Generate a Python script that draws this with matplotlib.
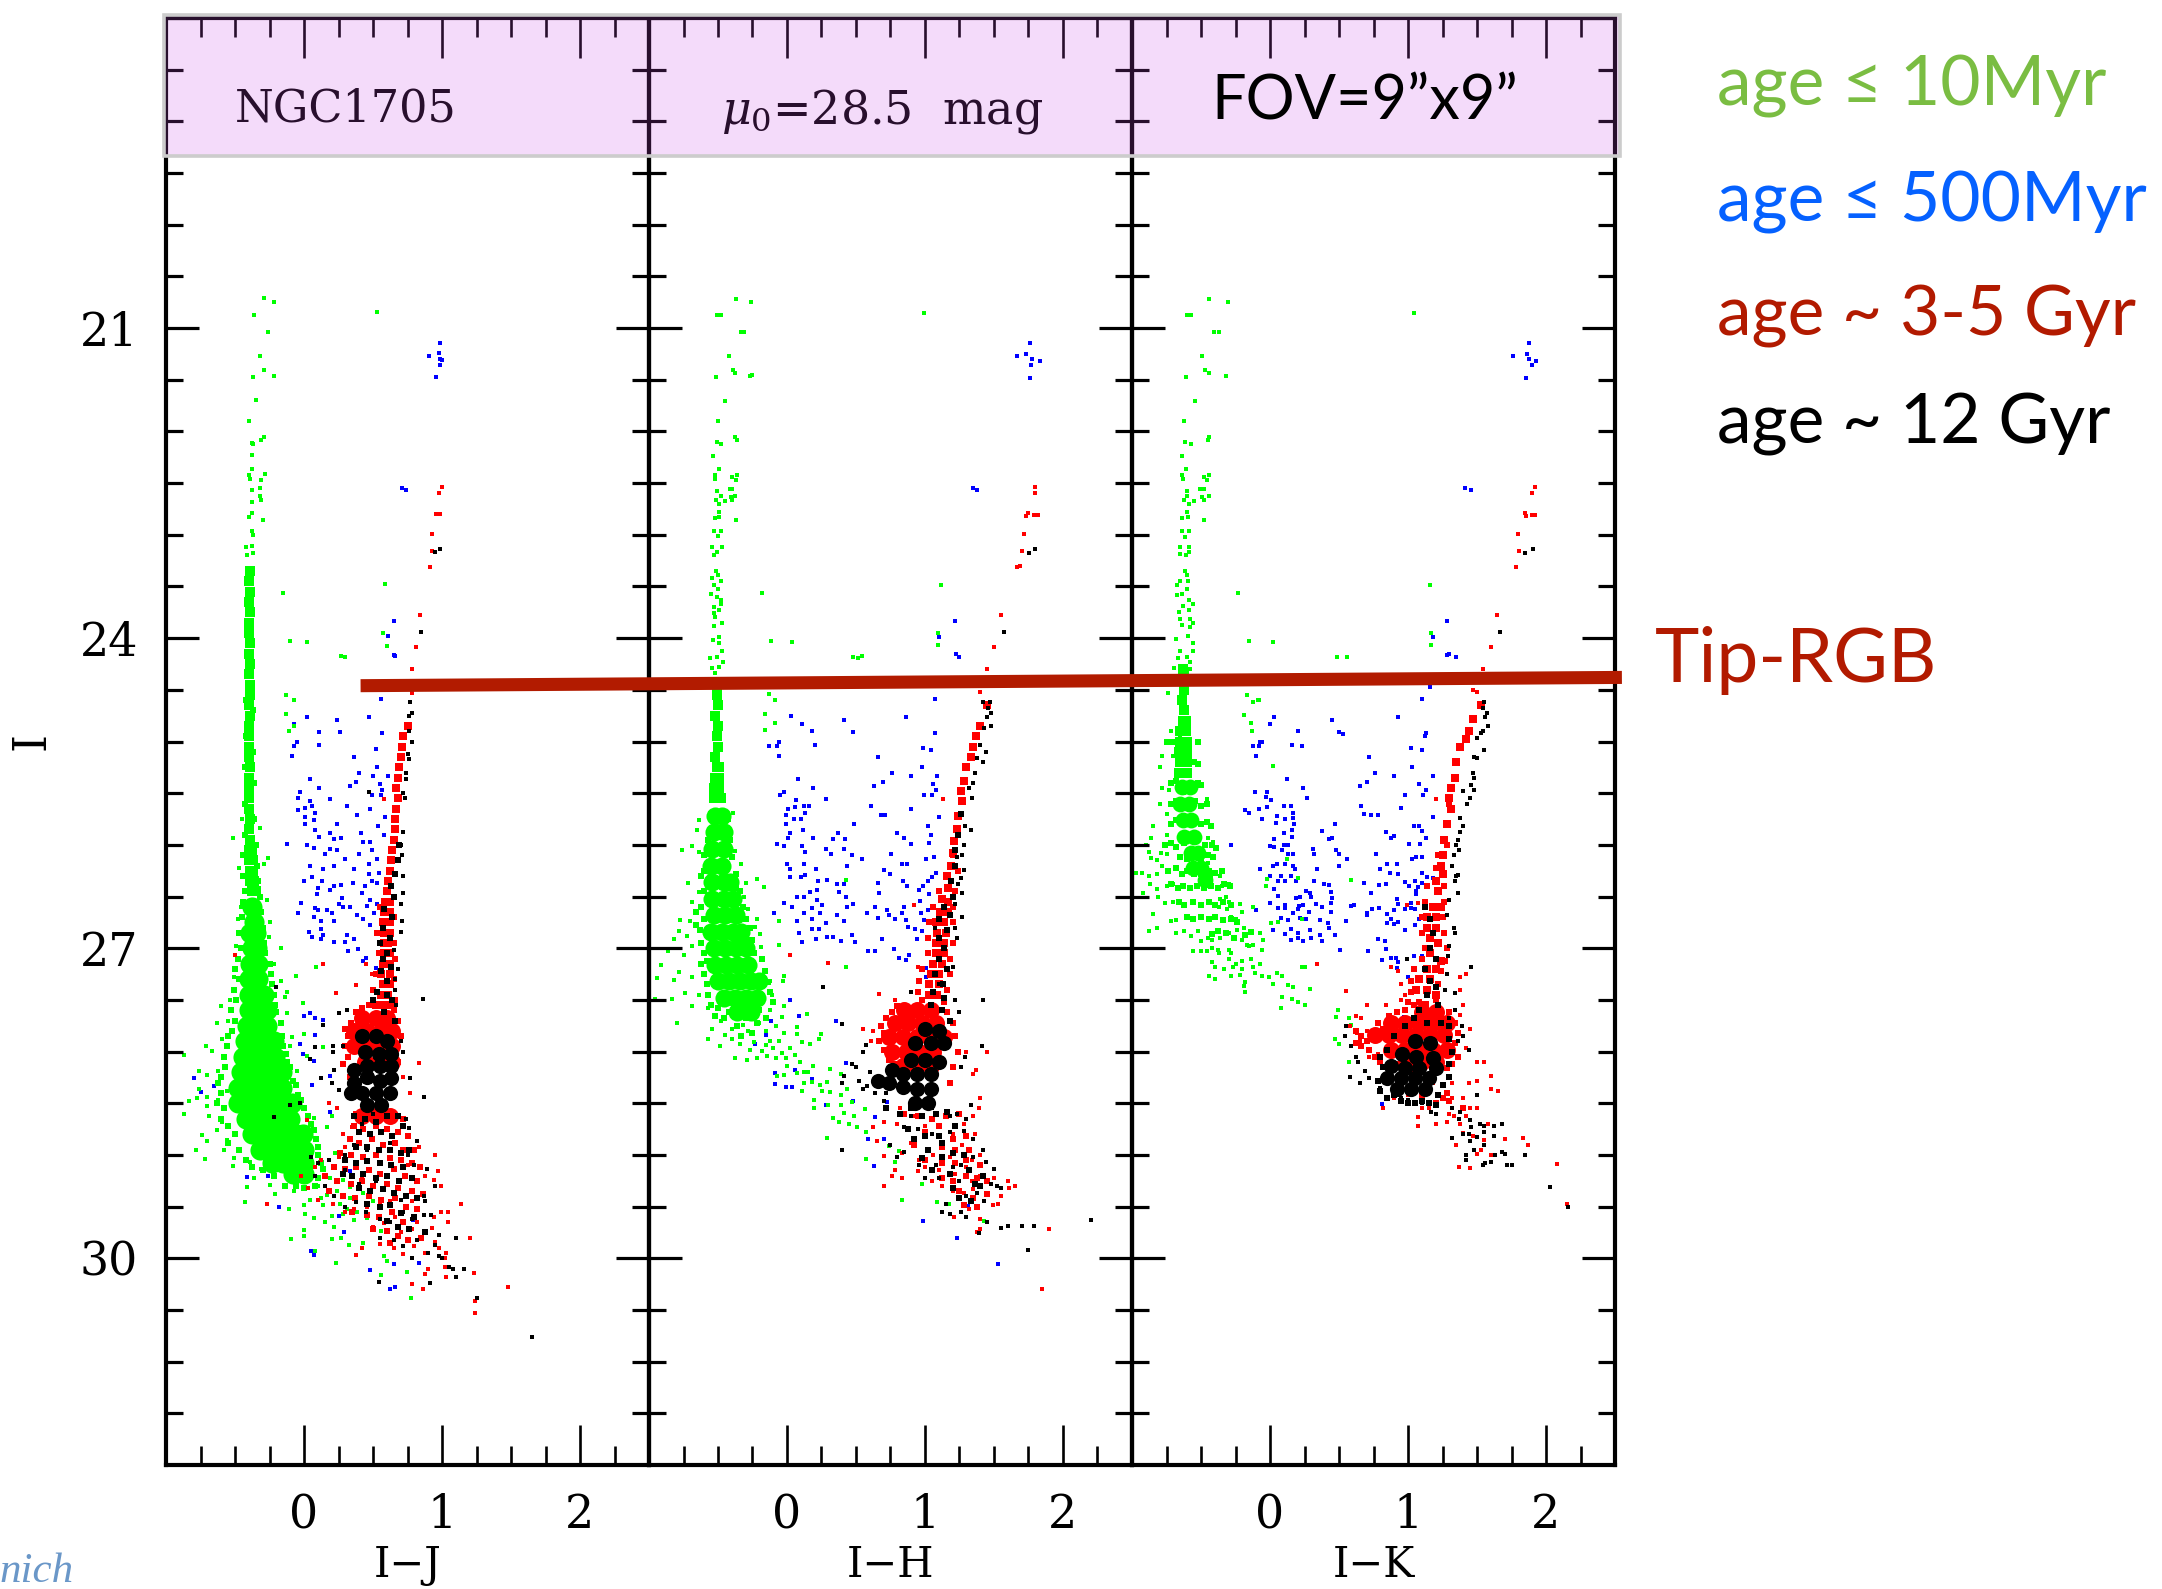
import numpy as np
import matplotlib
matplotlib.use('Agg')
import matplotlib.pyplot as plt
from matplotlib.patches import Rectangle, ConnectionPatch

# colour magnitude diagrams, one panel per colour index
xlabels = ['I\u2212J', 'I\u2212H', 'I\u2212K']
ytick_major = [18, 21, 24, 27, 30]
ytick_labels = ['', '21', '24', '27', '30']
ytick_minor = [18.5, 19, 19.5, 20, 20.5, 21.5, 22, 22.5, 23, 23.5, 24.5, 25, 25.5, 26, 26.5, 27.5, 28, 28.5, 29, 29.5, 30.5, 31, 31.5]
xtick_major = [0, 1, 2]
xtick_minor = [-0.75, -0.5, -0.25, 0.25, 0.5, 0.75, 1.25, 1.5, 1.75, 2.25]
tip_rgb = [(0.41, 24.46), (2.55, 24.38)]
legend_labels = ['age \u2264 10Myr', 'age \u2264 500Myr', 'age ~ 3-5 Gyr', 'age ~ 12 Gyr']

# ---- panel 1, I-J ----
g1 = [(-0.36,20.87),(-0.29,20.71),(-0.22,20.75),(-0.26,21.04),(-0.32,21.27),(-0.29,21.41),(-0.22,21.46),(-0.37,21.47),(-0.35,21.7),(-0.4,21.9),(-0.29,22.05),(-0.31,22.08),(-0.38,22.11),(-0.37,22.12),(-0.38,22.23),(-0.38,22.36),(-0.28,22.41),(-0.4,22.42),(-0.31,22.47),(-0.39,22.46),(-0.32,22.55),(-0.38,22.57),(-0.32,22.62),(-0.31,22.66),(-0.38,22.68),(-0.38,22.79),(-0.4,22.83),(-0.3,22.86),(-0.38,22.96),(-0.37,23.0),(-0.42,23.12),(-0.38,23.11),(-0.41,23.2),(-0.37,23.18),
(0.53,20.84),(-0.15,23.56),(0.59,23.48),(-0.1,24.03),(0.02,24.04),(0.27,24.17),(0.3,24.18),(0.57,23.95),(0.6,24.08),
(-0.13,24.55),(-0.07,24.6),(-0.13,24.73),(-0.11,24.9),(-0.07,24.85),
(-0.515,25.93),(-0.45,25.75),(-0.32,25.84),(-0.26,26.13),(-0.29,26.19),(-0.47,26.22),(-0.27,26.53),(-0.46,26.6),(-0.25,26.75),(-0.48,26.72),(-0.465,26.86),(-0.255,26.89),(-0.165,27.0),(-0.49,26.98),(-0.215,27.15),(-0.51,27.28),(-0.06,27.27),(0.09,27.18),(-0.17,27.32),(-0.12,27.42),(-0.135,27.47),(-0.01,27.53),(-0.6,27.56),(-0.535,27.5),(-0.125,27.63),(-0.63,27.72),(-0.55,27.7),(0,27.83),(-0.085,27.86),(-0.1,27.95),(-0.71,27.95),(-0.595,27.88),(-0.87,28.03),(-0.665,27.99),(-0.58,28.04),(0.14,27.96),(0.02,28.04),(-0.76,28.19),(-0.7,28.23),(-0.62,28.19),(-0.05,28.19),(-0.76,28.36),(-0.62,28.47),(-0.83,28.48),(-0.775,28.45),(-0.7,28.44),(-0.56,28.38),(-0.87,28.6),(-0.7,28.53),(-0.69,28.62),(-0.595,28.68),(-0.63,28.76),(-0.74,28.81),(-0.7,28.87),(-0.56,28.86),(-0.78,28.95),(-0.58,28.95),(-0.715,29.04),(-0.51,29.03),(-0.515,29.11),(-0.39,29.07),(-0.315,29.14),(-0.365,29.22),(-0.41,29.31),(-0.245,29.29),(-0.21,29.38),(-0.425,29.46),(-0.11,29.52),(0.07,28.64),(0.165,28.73),(0.2,28.62),(0.225,28.98),
(0.01,29.57),(0.07,29.61),(0.155,29.65),(0.215,29.7),(0,29.73),(0,29.78),(-0.095,29.81),(0.2,29.81),(0.265,29.8),(0.325,29.87),(0.43,29.85),(0.08,29.93),(0.23,30.05),(0.58,29.98),(0.605,30.03),(0.56,30.16),(0.745,30.13),(0.775,30.38),(1.24,30.41),(-0.075,29.35),(0,29.48),(0.045,29.44),(0.165,29.39),(0.24,29.35),(0.335,29.42),(0.285,29.57),(0.385,29.55),(0.455,29.61),(0.555,29.74),(0.14,29.48),(0.2,29.59),(0.335,29.31),(0.43,29.37),(0.19,29.22),(0.285,29.24),(0.1,29.3),(0.12,29.42),(0.26,29.47),(0.31,29.52),(0.36,29.63),(0.5,29.45)]
g1_col = [(-0.39,23.35),(-0.4,23.45),(-0.39,23.55),(-0.4,23.65),(-0.39,23.75),(-0.395,23.85),(-0.4,23.95),(-0.39,24.05),(-0.4,24.15),(-0.39,24.25),(-0.395,24.35),(-0.39,24.45),(-0.39,24.55),(-0.4,24.65),(-0.39,24.75),(-0.395,24.85),(-0.4,24.95),(-0.395,25.05),(-0.4,25.15),(-0.39,25.25),(-0.4,25.35),(-0.395,25.45),(-0.4,25.55),(-0.395,25.65),(-0.39,25.75),(-0.4,25.85),(-0.39,25.95),(-0.4,26.05),(-0.38,26.05),(-0.4,26.15),(-0.37,26.15),(-0.39,26.25),(-0.37,26.25),(-0.39,26.35),(-0.36,26.35),(-0.38,26.45),(-0.35,26.45)]
g1_mid = [(-0.42,24.6),(-0.37,24.7),(-0.42,24.95),(-0.37,25.1),(-0.43,25.25),(-0.36,25.4),(-0.43,25.6),(-0.36,25.75),(-0.43,25.9),(-0.35,26.0),(-0.44,26.1),(-0.34,26.2),(-0.44,26.3),(-0.33,26.35),(-0.43,26.45),(-0.32,26.5),(-0.44,26.55),(-0.31,26.65),(-0.45,26.7),(-0.3,26.8),(-0.47,26.85),(-0.29,26.95),(-0.46,27.0),(-0.28,27.05),(-0.48,27.1),(-0.25,27.15),(-0.5,27.2),(-0.24,27.25),(-0.47,27.3),(-0.23,27.35),(-0.51,27.4),(-0.22,27.45),(-0.49,27.5),(-0.21,27.55),(-0.53,27.6),(-0.2,27.62),(-0.5,27.7),(-0.17,27.72),(-0.52,27.8),(-0.16,27.85),(-0.55,27.85),(-0.56,27.95),(-0.15,27.95),(-0.13,28.02),(-0.58,28.05),(-0.12,28.1),(-0.57,28.15),(-0.1,28.15),(-0.6,28.25),(-0.08,28.28),(-0.62,28.3),(-0.06,28.32),(-0.6,28.4),(-0.04,28.42),(-0.63,28.5),(-0.02,28.47),(-0.58,28.55),(0.0,28.55),(-0.6,28.65),(0.03,28.62),(-0.55,28.72),(0.05,28.7),(-0.5,28.8),(0.07,28.76),(-0.55,28.88),(0.09,28.85),(-0.47,28.95),(0.1,28.92),(-0.42,29.05),(0.1,29.0),(-0.38,29.12),(0.12,29.08),(-0.3,29.15),(0.14,29.14),(-0.22,29.2),(0.1,29.22),(-0.14,29.3),(-0.06,29.3),(0.0,29.32),(0.08,29.3)]
g1_blob = [(-0.38,26.6),(-0.36,26.75),(-0.39,26.85),(-0.35,26.85),(-0.38,27.0),(-0.34,27.0),(-0.39,27.15),(-0.33,27.15),(-0.4,27.3),(-0.33,27.3),(-0.4,27.45),(-0.33,27.45),(-0.29,27.45),(-0.4,27.6),(-0.33,27.6),(-0.27,27.6),(-0.41,27.75),(-0.34,27.75),(-0.27,27.75),(-0.43,27.9),(-0.35,27.9),(-0.28,27.9),(-0.22,27.9),(-0.44,28.05),(-0.36,28.05),(-0.28,28.05),(-0.21,28.05),(-0.46,28.2),(-0.38,28.2),(-0.3,28.2),(-0.22,28.2),(-0.16,28.2),(-0.48,28.35),(-0.4,28.35),(-0.32,28.35),(-0.24,28.35),(-0.16,28.35),(-0.48,28.5),(-0.4,28.5),(-0.32,28.5),(-0.24,28.5),(-0.16,28.5),(-0.09,28.5),(-0.42,28.65),(-0.34,28.65),(-0.26,28.65),(-0.18,28.65),(-0.1,28.65),(-0.38,28.8),(-0.3,28.8),(-0.22,28.8),(-0.14,28.8),(-0.06,28.8),(-0.01,28.8),(-0.32,28.95),(-0.24,28.95),(-0.16,28.95),(-0.08,28.95),(0.0,28.95),(-0.23,29.08),(-0.15,29.08),(-0.07,29.08),(0.0,29.08),(-0.08,29.18),(0.0,29.18)]
b1 = [(0.986,21.14),(0.909,21.27),(0.98,21.24),(0.983,21.3),(1.0,21.31),(0.983,21.36),(0.957,21.47),(0.71,22.55),(0.74,22.57),(0.65,23.83),(0.61,23.98),(0.65,24.16),(0.66,24.17),
(0.02,24.76),(0.24,24.79),(0.47,24.76),(0.56,24.59),(-0.07,24.83),(0.11,24.91),(0.26,24.91),(0.565,24.92),(-0.05,25.0),(-0.07,25.04),(0.11,25.03),(0.52,25.07),(-0.085,25.14),(0.365,25.15),(0.53,25.25),(0.4,25.3),(0.04,25.36),(0.11,25.45),(0.335,25.43),(0.38,25.39),(0.5,25.33),(0.55,25.41),(0.61,25.33),(0.565,25.47),(0.49,25.52),(0.56,25.52),(-0.03,25.49),(-0.04,25.55),(0.04,25.58),(0.185,25.56),(0.01,25.64),(0.06,25.62),(-0.045,25.66),(0.08,25.69),(0.01,25.73),(0.07,25.76),(0.31,25.62),(0.385,25.71),(0.48,25.65),(0.585,25.73),(0.005,25.8),(0.24,25.8),(0.535,25.82),(0.08,25.86),(0.19,25.89),(0.41,25.89),(0.58,25.9),(0.11,25.92),(0.22,25.94),(0.27,25.93),(-0.12,25.99),(0.43,25.97),(0.48,25.97),(0.02,26.0),(0.07,26.03),(0.185,26.04),(0.24,26.05),(0.49,26.05),(0.155,26.09),(0.395,26.09),(0.53,26.14),(0.3,26.14),(0.045,26.2),(0.215,26.2),(0.47,26.19),(0.14,26.23),(0.365,26.23),(0.54,26.27),(0.06,26.31),(0.47,26.28),(0.13,26.35),(0,26.35),(0.215,26.4),(0.27,26.39),(0.355,26.37),(0.445,26.4),(0.49,26.35),(0.53,26.37),(0.105,26.42),(0.19,26.44),(0.42,26.47),(0.095,26.48),(0.275,26.51),(0.48,26.53),(-0.02,26.56),(0.08,26.61),(0.25,26.57),(0.285,26.6),(0.335,26.6),(0.455,26.59),(0.53,26.57),(-0.045,26.66),(0.105,26.63),(0.165,26.63),(0.2,26.66),(0.385,26.68),(0.43,26.72),(0.505,26.66),(0.07,26.7),(0.12,26.74),(0.22,26.74),(0.48,26.78),(0.035,26.84),(0.12,26.81),(0.14,26.87),(0.31,26.87),(0.06,26.89),(0.12,26.91),(0.215,26.94),(0.3,26.94),(0.365,26.91),(0.39,27.01),(0.32,27.03),(0.45,27.09),(0.43,27.12),(0.525,27.19),
(0,27.66),(0.04,27.63),(0.08,27.68),(0.14,27.69),(0.08,27.84),(-0.03,27.93),(-0.01,28.02),(0.07,28.09),(-0.795,28.26),(-0.75,28.39),(-0.65,28.33),(0.19,28.24),(0.06,28.32),(0.19,28.58),(-0.425,28.52),(-0.41,29.21),(-0.26,29.2),(-0.18,29.5),(0.05,29.93),(0.075,29.97),(0.48,30.11),(0.65,30.06),(0.62,30.3),(0.66,30.28),(0.83,30.05),(0.29,29.75),(0.79,29.63),(0.335,29.16),(0.25,29.59)]
r1 = [(1.0,22.54),(0.98,22.6),(0.96,22.8),(0.985,22.8),(0.925,22.99),(0.925,23.16),(0.91,23.31),(0.84,23.78),(0.81,24.09),(0.78,24.3),(0.78,24.53),
(0.58,25.56),(-0.5,27.07),(0.14,27.15),(0.45,27.15),(0.38,27.36),(0.23,27.43),(0.49,27.25),(0.31,27.6),(0.83,28.11),(0.72,28.25),(0.77,28.4),
(0.18,28.5),(0.24,28.55),(0.02,28.66),(0.35,28.73),(0.28,28.8),(0.83,28.92),(0.97,29.16),(0.94,29.24),(0.99,29.3),(1.14,29.47),(1.04,29.55),(0.99,29.55),(0.94,29.6),(1.04,29.65),(0.93,29.71),(0.95,29.84),(1.2,29.8),(0.98,29.9),(1.03,29.95),(1.02,30.0),(1.02,30.08),(1.23,30.14),(1.03,30.18),(1.48,30.28),(0.86,30.3),(0.78,30.25),(0.88,30.15),(0.9,30.1),(0.88,29.95),(0.8,29.88),(0.72,29.96),(0.65,29.9),(0.55,29.86),(0.38,29.97),(0.42,29.9),(0.5,29.7),(0.58,29.66),(0.66,29.6),(0.7,29.75),(0.78,29.72),(0.82,29.65),(0.74,29.5),(0.78,29.45),(0.62,29.45),(0.55,29.48),(0.46,29.5),(0.36,29.52),(0.3,29.55),(0.21,29.47),(0.1,29.44),(-0.27,29.47),(0.03,29.32),(-0.02,29.2),(0.08,29.12),(0.12,29.05),(0.88,29.2),(0.95,29.0),(0.75,29.1),(0.42,29.2),(0.3,29.13),(0.25,29.02),(0.3,28.92),(1.24,30.41),(1.24,30.53)]
r1_col = [(0.75,24.85),(0.72,24.95),(0.71,25.05),(0.7,25.15),(0.69,25.25),(0.68,25.35),(0.67,25.45),(0.68,25.55),(0.67,25.65),(0.66,25.75),(0.66,25.85),(0.65,25.95),(0.64,26.05),(0.63,26.15),(0.62,26.25),(0.61,26.35),(0.6,26.45),(0.59,26.55),(0.62,26.55),(0.58,26.65),(0.62,26.65),(0.57,26.75),(0.62,26.75),(0.58,26.85),(0.62,26.85),(0.58,26.95),(0.61,26.95),(0.58,27.05),(0.62,27.05),(0.57,27.15),(0.62,27.15),(0.56,27.25),(0.62,27.25),(0.57,27.35),(0.62,27.35),(0.56,27.45),(0.61,27.45),(0.52,27.55),(0.58,27.55),(0.63,27.55)]
r1_mid = [(0.55,26.6),(0.65,26.7),(0.53,26.85),(0.65,26.95),(0.54,27.05),(0.66,27.1),(0.52,27.25),(0.65,27.3),(0.5,27.4),(0.66,27.5),(0.47,27.55),(0.65,27.6),(0.38,27.62),(0.42,27.58),(0.34,27.72),(0.3,27.78),(0.32,27.85),(0.68,27.7),(0.3,27.95),(0.7,27.85),(0.32,28.05),(0.68,28.1),(0.28,28.12),(0.33,28.25),
(0.38,28.6),(0.47,28.62),(0.56,28.58),(0.65,28.6),(0.72,28.65),(0.36,28.72),(0.43,28.75),(0.52,28.72),(0.6,28.75),(0.68,28.78),(0.75,28.82),(0.33,28.85),(0.4,28.88),(0.49,28.85),(0.57,28.9),(0.66,28.88),(0.72,28.95),(0.8,28.95),(0.26,28.98),(0.34,29.0),(0.43,29.02),(0.52,29.0),(0.62,29.03),(0.7,29.05),(0.78,29.08),(0.84,29.12),(0.22,29.12),(0.3,29.14),(0.38,29.12),(0.47,29.15),(0.55,29.18),(0.65,29.14),(0.73,29.2),(0.82,29.25),(0.15,29.2),(0.24,29.25),(0.34,29.28),(0.42,29.25),(0.5,29.3),(0.6,29.28),(0.68,29.32),(0.78,29.35),(0.86,29.38),(0.18,29.35),(0.28,29.4),(0.37,29.42),(0.47,29.4),(0.56,29.44),(0.66,29.42),(0.74,29.5),(0.82,29.52),(0.35,29.55),(0.46,29.58),(0.54,29.6),(0.64,29.55),(0.72,29.65),(0.5,29.72),(0.6,29.74),(0.68,29.78),(0.75,29.82),(0.85,29.8),(0.62,29.85)]
r1_blob = [(0.42,27.68),(0.52,27.68),(0.6,27.68),(0.36,27.8),(0.46,27.8),(0.56,27.8),(0.64,27.8),(0.36,27.95),(0.46,27.95),(0.56,27.95),(0.64,27.95),(0.44,28.1),(0.54,28.1),(0.64,28.1),(0.42,28.62),(0.52,28.62),(0.62,28.62)]
k1 = [(0.985,23.14),(0.95,23.17),(0.85,23.94),(0.77,24.62),(0.78,24.72),(0.76,24.75),(0.76,24.9),(0.78,25.0),(0.75,25.12),(0.76,25.17),(0.74,25.3),(0.74,25.36),(0.72,25.5),(0.73,25.55),(0.47,25.49),(0.72,25.88),(0.7,26.0),(0.71,26.1),(0.72,26.3),(0.72,26.47),(0.7,26.57),(0.71,26.74),(0.7,26.84),(0.65,27.02),(0.68,27.2),(0.66,27.3),(0.66,27.4),(-0.2,27.38),(0.86,27.49),(0.67,27.55),(0.31,27.6),(0.25,27.63),(0.14,27.74),(0.08,27.96),(0.21,27.95),(0.28,27.95),(0.7,27.9),(0.72,28.0),(0.21,28.0),(0.04,28.07),(0.22,28.18),(0.12,28.26),(0.2,28.3),(0.77,28.26),(0.87,28.44),(0.25,28.37),(-0.1,28.52),(-0.22,28.63),(-0.03,28.5),(0.74,28.65),(0.76,28.74),(0.82,28.87),(0.75,29.0),(0.8,29.1),(0.89,29.14),(0.95,29.3),(0.87,29.4),(0.88,29.45),(0.92,29.58),(0.87,29.58),(0.98,29.77),(1.1,29.8),(0.82,29.82),(0.95,29.87),(0.98,29.98),(1.0,30.0),(1.05,30.08),(1.08,30.1),(1.16,30.1),(1.1,30.18),(0.91,30.24),(0.54,30.23),(1.25,30.38),(1.65,30.76),(0.9,29.95),(0.78,30.0),(0.72,29.88),(0.65,29.82),(0.55,29.8),(0.62,29.65),(0.55,29.62),(0.45,29.55),(0.38,29.46),(0.3,29.5),(0.22,29.4),(0.15,29.3),(0.08,29.2),(0.05,29.02),(0.1,29.08),(0.18,29.05),(0.3,29.0),(0.78,29.62),(0.72,29.55),(0.7,29.44),(0.3,29.15),(0.4,29.28),(0.52,29.25),(0.56,29.08),(0.46,28.95),(0.62,28.88),(0.42,28.7),(0.5,28.6),(0.36,28.9)]
k1_mid = [(0.69,26.0),(0.68,26.15),(0.66,26.28),(0.63,26.4),(0.65,26.5),(0.58,26.62),(0.64,26.7),(0.57,26.8),(0.62,26.9),(0.55,26.95),(0.6,27.05),(0.57,27.1),(0.63,27.18),(0.56,27.22),(0.6,27.32),(0.53,27.42),(0.6,27.45),(0.64,27.5),(0.5,27.5),(0.58,27.62),(0.66,27.7),
(0.36,28.62),(0.44,28.65),(0.52,28.68),(0.6,28.62),(0.68,28.62),(0.4,28.78),(0.48,28.8),(0.56,28.78),(0.64,28.82),(0.72,28.72),(0.38,28.92),(0.46,28.92),(0.54,28.95),(0.62,28.95),(0.7,28.98),(0.76,28.95),(0.3,29.05),(0.38,29.08),(0.46,29.06),(0.55,29.08),(0.63,29.1),(0.72,29.12),(0.28,29.18),(0.35,29.2),(0.43,29.18),(0.52,29.22),(0.6,29.2),(0.69,29.25),(0.78,29.22),(0.4,29.32),(0.48,29.35),(0.57,29.33),(0.65,29.37),(0.74,29.4),(0.82,29.42),(0.46,29.47),(0.55,29.5),(0.62,29.48),(0.7,29.56),(0.8,29.6),(0.6,29.64),(0.68,29.7),(0.76,29.72),(0.88,29.75)]
k1_blob = [(0.42,27.85),(0.52,27.85),(0.6,27.9),(0.44,28.0),(0.54,28.02),(0.63,28.02),(0.36,28.18),(0.46,28.14),(0.55,28.14),(0.63,28.14),(0.36,28.3),(0.46,28.25),(0.55,28.28),(0.63,28.26),(0.34,28.4),(0.42,28.4),(0.52,28.4),(0.62,28.4),(0.46,28.52),(0.56,28.52)]

# ---- panel 2, I-H ----
g2 = [(-0.37,20.72),(-0.26,20.75),(-0.51,20.87),(-0.48,20.87),(-0.33,21.04),(-0.31,21.04),(-0.42,21.27),(-0.39,21.41),(-0.38,21.43),(-0.515,21.47),(-0.265,21.46),(-0.25,21.45),(-0.45,21.71),(-0.5,21.9),(-0.38,22.05),(-0.36,22.08),(-0.51,22.1),(-0.48,22.12),(-0.535,22.24),(-0.495,22.36),(-0.525,22.42),(-0.52,22.46),(-0.36,22.42),(-0.395,22.44),(-0.37,22.47),(-0.505,22.58),(-0.415,22.56),(-0.395,22.56),(-0.48,22.62),(-0.405,22.63),(-0.375,22.62),(-0.515,22.66),(-0.45,22.67),(-0.4,22.66),(-0.495,22.7),(-0.49,22.78),(-0.49,22.83),(-0.52,22.84),(-0.37,22.86),(-0.53,22.96),(-0.48,22.96),(-0.5,23.01),(-0.54,23.12),(-0.47,23.12),(-0.51,23.17),(-0.53,23.2),(-0.515,23.35),(-0.5,23.39),(-0.545,23.42),(-0.48,23.45),(-0.53,23.49),(-0.5,23.52),(-0.55,23.57),(-0.505,23.6),(-0.48,23.63),(-0.48,23.67),(-0.53,23.7),(-0.495,23.73),(-0.53,23.76),(-0.52,23.8),(-0.47,23.85),(-0.53,23.88),(-0.49,23.99),(-0.535,24.02),(-0.495,24.05),(-0.47,24.12),(-0.555,24.19),(-0.505,24.18),(-0.465,24.23),(-0.54,24.29),(-0.49,24.28),(-0.52,24.34),
(-0.18,23.56),(-0.115,24.03),(0.035,24.04),(0.475,24.18),(0.515,24.19),(0.545,24.17),(0.99,20.85),(1.115,23.49),(1.095,23.95),(1.095,24.07),
(-0.13,24.54),(-0.09,24.6),(-0.16,24.73),(-0.09,24.82),(-0.16,24.89),
(-0.39,25.69),(-0.64,25.76),(-0.65,25.86),(-0.76,26.05),(-0.69,26.01),(-0.38,26.06),(-0.64,26.07),(-0.33,26.19),(-0.72,26.37),(-0.64,26.46),(-0.22,26.33),(-0.165,26.41),(-0.295,26.37),(-0.315,26.5),(-0.69,26.55),(-0.28,26.62),(-0.775,26.73),(-0.705,26.74),(-0.22,26.72),(-0.23,26.79),(-0.785,26.83),(-0.725,26.88),(-0.195,26.86),(-0.055,26.74),(-0.69,26.98),(-0.82,26.91),(-0.865,27.03),(-0.75,27.07),(-0.19,26.99),(-0.06,26.97),(-0.915,27.16),(-0.785,27.23),(-0.69,27.28),(-0.945,27.29),(-0.82,27.31),(-0.74,27.43),(-0.635,27.45),(-0.955,27.49),(-0.83,27.49),(-0.69,27.56),(-0.795,27.72),(-0.57,27.58),(-0.025,27.27),(-0.03,27.32),(-0.12,27.32),(-0.11,27.45),(-0.025,27.56),(-0.035,27.67),(-0.545,27.78),(-0.57,27.88),(-0.485,27.95),(-0.4,27.88),(-0.375,28.06),(-0.29,28.08),(-0.22,28.06),(-0.18,27.99),(-0.34,27.93),(-0.24,27.91),(-0.145,28.04),(-0.1,27.97),(-0.035,28.01),(0.025,27.97),(0.07,27.83),(-0.025,27.82),(0,28.14),(0.11,27.91),(0.17,27.93),(0.23,27.88),(0.25,27.83),(0.145,27.64),(0.07,27.76),(0.095,28.1),(0.19,28.14),(0.315,28.17),(0.39,28.22),(0.07,28.21),(0.12,28.3),(0.18,28.29),(0.24,28.32),(0.29,28.29),(-0.07,28.24),(-0.025,28.23),(0.11,28.38),(0.255,28.38),(0.315,28.39),(0.39,28.42),(0.435,28.36),(0.195,28.47),(0.195,28.55),(0.3,28.52),(0.39,28.52),(0.47,28.49),(0.33,28.64),(0.375,28.68),(0.415,28.59),(0.485,28.62),(0.45,28.7),(0.51,28.73),(0.565,28.56),(0.57,28.78),(0.29,28.84),(0.74,28.91),(0.81,28.96),(0.575,29.04),(0.785,29.07),(0.98,29.28),(0.83,29.44),(1.09,29.46),(1.175,29.47),(1.43,29.64),(0.425,26.34),(0.425,27.18),
(-0.12,27.6),(-0.08,27.75),(-0.15,27.8),(-0.2,27.72),(-0.28,27.8),(-0.48,27.7),(-0.4,27.78),(-0.32,27.74),(-0.45,27.84),(-0.12,27.9),(-0.06,27.9),(-0.27,27.98),(-0.15,27.94),(-0.08,28.06),(-0.01,28.06),(0.06,28.03),(0.15,28.2),(0.12,28.2)]
g2_col = [(-0.51,24.45),(-0.51,24.55),(-0.5,24.65),(-0.52,24.75),(-0.5,24.85),(-0.51,24.95),(-0.5,25.05),(-0.52,25.15),(-0.51,25.25),(-0.49,25.25),(-0.52,25.35),(-0.49,25.35),(-0.53,25.45),(-0.49,25.45),(-0.53,25.55),(-0.48,25.55)]
g2_mid = [(-0.55,25.7),(-0.43,25.75),(-0.57,25.95),(-0.41,25.95),(-0.6,26.1),(-0.4,26.12),(-0.62,26.3),(-0.37,26.28),(-0.6,26.45),(-0.34,26.45),(-0.62,26.6),(-0.32,26.6),(-0.6,26.72),(-0.3,26.72),(-0.63,26.82),(-0.27,26.8),(-0.62,26.95),(-0.25,26.92),(-0.6,27.05),(-0.24,27.05),(-0.62,27.15),(-0.18,27.1),(-0.6,27.25),(-0.16,27.22),(-0.58,27.35),(-0.14,27.33),(-0.57,27.45),(-0.12,27.42),(-0.55,27.55),(-0.1,27.52),(-0.5,27.58),(-0.42,27.62),(-0.46,27.68),(-0.2,27.6),(-0.15,27.68),(-0.3,27.68),(-0.22,27.72),(-0.33,27.85),(-0.25,27.82),(-0.36,27.75),(-0.52,27.66),(-0.58,27.12),(-0.66,26.78),(-0.66,26.65),(-0.6,26.25),(-0.37,26.42),(-0.28,26.92)]
g2_blob = [(-0.52,25.72),(-0.47,25.72),(-0.53,25.88),(-0.46,25.88),(-0.54,26.04),(-0.46,26.04),(-0.55,26.2),(-0.47,26.2),(-0.54,26.36),(-0.46,26.36),(-0.41,26.36),(-0.54,26.52),(-0.46,26.52),(-0.39,26.52),(-0.53,26.68),(-0.45,26.68),(-0.37,26.68),(-0.55,26.84),(-0.47,26.84),(-0.39,26.84),(-0.33,26.84),(-0.53,27.0),(-0.45,27.0),(-0.37,27.0),(-0.3,27.0),(-0.52,27.16),(-0.44,27.16),(-0.36,27.16),(-0.28,27.16),(-0.5,27.32),(-0.42,27.32),(-0.34,27.32),(-0.26,27.32),(-0.2,27.32),(-0.46,27.48),(-0.38,27.48),(-0.3,27.48),(-0.22,27.48),(-0.36,27.62),(-0.26,27.62)]
b2 = [(1.76,21.14),(1.67,21.27),(1.73,21.25),(1.775,21.3),(1.83,21.32),(1.77,21.36),(1.76,21.48),(1.35,22.55),(1.375,22.57),(1.22,23.83),(1.1,23.99),(1.225,24.15),(1.25,24.18),
(1.07,24.59),(0.03,24.75),(0.41,24.79),(0.86,24.76),(0.11,24.83),(0.18,24.9),(0.48,24.91),(1.07,24.92),(-0.06,25.0),(-0.13,25.04),(-0.07,25.04),(0.2,25.03),(0.985,25.06),(1.04,25.08),(-0.06,25.14),(0.66,25.15),(0.98,25.25),(0.76,25.3),(0.08,25.36),(0.19,25.45),(0.63,25.43),(0.695,25.39),(0.9,25.33),(1.09,25.33),(1.06,25.41),(1.08,25.47),(0.99,25.52),(1.05,25.52),(-0.02,25.49),(-0.05,25.52),(0.065,25.57),(0.28,25.56),(0.005,25.65),(0.06,25.63),(0.125,25.62),(0.16,25.62),(-0.01,25.71),(0.13,25.69),(0.61,25.62),(0.9,25.65),(0.68,25.71),(0.71,25.71),(0.05,25.75),(0.105,25.75),(1.1,25.73),(-0.01,25.8),(0.485,25.8),(1.02,25.82),(0.115,25.86),(0.025,25.89),(0.37,25.89),(0.8,25.89),(1.04,25.9),(0.01,25.93),(0.19,25.93),(0.33,25.94),(0.42,25.94),(0.85,25.93),(-0.07,25.99),(-0.025,26.01),(0.11,26.01),(0.9,25.99),(1.03,25.98),(0.28,26.04),(0.13,26.07),(0.41,26.04),(0.32,26.09),(0.47,26.1),(0.545,26.14),(0.755,26.09),(1.01,26.14),(1.065,26.12),(0,26.19),(0.12,26.19),(0.435,26.2),(0.835,26.19),(0.87,26.19),(0.025,26.23),(0.21,26.23),(0.7,26.24),(0.75,26.28),(1.08,26.27),(0.02,26.31),(0.1,26.31),(0.13,26.29),(0.225,26.35),(0.29,26.34),(0.84,26.35),(1.02,26.35),(1.05,26.31),(0.66,26.37),(0.41,26.38),(0.365,26.38),(0.985,26.4),(0.87,26.4),(0.22,26.44),(0.375,26.46),(0.17,26.46),(0.665,26.47),(0.955,26.44),(1.03,26.48),(0.12,26.5),(0.07,26.5),(0.425,26.5),(0.22,26.53),(0.965,26.54),(-0.02,26.56),(0.48,26.57),(0.035,26.6),(0.18,26.61),(0.255,26.58),(0.435,26.6),(0.635,26.6),(0.85,26.6),(-0.095,26.66),(0.12,26.66),(0.24,26.66),(0.365,26.68),(0.58,26.66),(0.725,26.63),(0.74,26.68),(0.835,26.66),(0.97,26.66),(1.02,26.63),(0.07,26.74),(0.18,26.72),(0.28,26.76),(0.415,26.74),(0.66,26.71),(0.785,26.72),(0.86,26.73),(0.99,26.73),(0.085,26.85),(0.18,26.81),(0.235,26.81),(0.88,26.79),(0.93,26.81),(0.98,26.83),(0.21,26.91),(0.29,26.89),(0.33,26.89),(0.47,26.87),(0.69,26.91),(0.94,26.91),(0.11,26.94),(0.39,26.93),(0.495,26.94),(0.775,27.01),(0.585,27.03),(0.635,27.03),(0.81,27.09),(0.86,27.11),(0.885,27.07),(1.005,27.19),(1.005,27.28),
(0.02,27.5),(0.09,27.66),(0.355,27.7),(-0.115,27.7),(-0.155,27.84),(-0.23,27.93),(0.43,28.11),(-0.085,28.21),(0.055,28.18),(-0.09,28.31),(-0.01,28.34),(0.035,28.34),(0.18,28.27),(0.48,28.48),(0.28,28.52),(0.725,28.49),(0.64,28.63),(0.59,28.85),(0.705,28.85),(0.63,29.11),(1.31,29.49),(0.985,29.64),(1.235,29.8),(1.53,30.06)]
r2 = [(1.8,22.54),(1.8,22.6),(1.75,22.79),(1.73,22.82),(1.79,22.81),(1.82,22.81),(1.72,22.99),(1.7,23.16),(1.685,23.3),(1.67,23.31),(1.55,23.78),(1.5,24.09),(1.45,24.3),(1.4,24.52),
(1.13,25.56),(0.92,26.58),(0.02,27.07),(0.3,27.14),(0.95,27.18),(0.67,27.44),(0.78,27.5),(0.62,27.8),(0.55,27.78),(0.61,27.9),(1.45,28.0),(1.37,28.18),(1.35,28.22),(1.3,28.0),(1.4,28.45),(1.39,28.55),(0.72,28.55),(0.7,28.68),(0.62,28.73),(0.65,28.87),(0.7,29.01),(0.83,28.98),(0.78,29.15),(0.76,29.2),(0.7,29.3),(0.95,29.16),(0.83,29.22),(1.4,29.0),(1.34,29.05),(1.4,29.2),(1.34,29.25),(1.5,29.22),(1.6,29.25),(1.61,29.32),(1.55,29.4),(1.49,29.48),(1.53,29.47),(1.32,29.52),(1.21,29.6),(1.4,29.62),(1.4,29.72),(1.38,29.75),(1.9,29.72),(1.85,30.3),(1.65,29.3),(1.05,29.25),(1.12,29.3),(1.2,29.35),(1.28,29.37),(1.35,29.33),(1.0,29.12),(1.1,29.15),(1.22,29.18),(0.96,29.05),(1.06,29.0),(1.18,29.02),(1.3,29.12),(1.27,28.9),(1.36,28.8),(1.28,28.7),(1.0,28.72),(1.2,28.8),(0.8,28.7),(0.9,28.88),(0.92,28.62),(0.82,28.55),(1.35,28.62)]
r2_col = [(1.45,24.65),(1.4,24.85),(1.37,24.95),(1.35,25.05),(1.33,25.15),(1.3,25.25),(1.28,25.38),(1.26,25.48),(1.27,25.58),(1.24,25.72),(1.23,25.85),(1.21,25.96),(1.2,26.08),(1.19,26.2),(1.16,26.3),(1.17,26.42),(1.12,26.52),(1.17,26.55),(1.11,26.65),(1.17,26.65),(1.08,26.75),(1.14,26.75),(1.09,26.85),(1.15,26.85),(1.08,26.95),(1.14,26.95),(1.08,27.05),(1.14,27.05),(1.06,27.15),(1.12,27.15),(1.04,27.25),(1.1,27.25),(1.03,27.35),(1.1,27.35),(1.03,27.45),(1.09,27.45)]
r2_mid = [(1.2,26.1),(1.15,26.3),(1.24,26.25),(1.1,26.45),(1.22,26.45),(1.06,26.6),(1.2,26.6),(1.03,26.75),(1.2,26.75),(1.02,26.9),(1.2,26.95),(1.02,27.05),(1.18,27.1),(0.98,27.2),(1.18,27.25),(0.96,27.32),(1.16,27.4),(0.95,27.42),(1.14,27.52),(0.98,27.5),(0.8,27.56),(0.76,27.62),(0.72,27.68),(0.68,27.75),(0.7,27.82),(0.67,27.9),(0.7,27.98),(0.74,28.08),(0.78,28.12),(1.16,27.62),(1.2,27.72),(1.22,27.85),(1.24,28.0),(1.2,28.15),(1.18,28.3),
(0.85,28.6),(0.95,28.62),(1.05,28.65),(1.15,28.62),(1.25,28.6),(0.88,28.75),(1.0,28.78),(1.1,28.72),(1.2,28.85),(1.3,28.82),(0.92,28.9),(1.02,28.95),(1.12,28.92),(1.22,28.95),(1.32,28.95),(1.0,29.05),(1.12,29.08),(1.22,29.08),(1.3,29.05),(1.4,29.1),(1.12,29.22),(1.2,29.25),(1.3,29.2),(1.38,29.22),(1.45,29.25),(1.25,29.35),(1.35,29.42),(1.45,29.38),(1.28,29.48),(1.38,29.5)]
r2_blob = [(0.85,27.6),(0.94,27.6),(1.04,27.6),(0.78,27.72),(0.88,27.72),(0.98,27.72),(1.08,27.72),(0.74,27.86),(0.84,27.86),(0.94,27.86),(1.04,27.86),(1.14,27.86),(0.76,28.0),(0.86,28.0),(0.96,28.0),(1.06,28.0),(0.84,28.14),(0.94,28.14),(1.04,28.14)]
k2 = [(1.8,23.14),(1.755,23.18),(1.57,23.94),(1.42,24.62),(1.47,24.62),(1.46,24.68),(1.48,24.72),(1.45,24.76),(1.43,24.87),(1.48,24.85),(1.4,25.03),(1.44,25.1),(1.38,25.16),(1.42,25.2),(1.36,25.3),(1.35,25.4),(1.32,25.45),(1.34,25.55),(1.29,25.82),(1.33,25.86),(1.28,26.0),(1.27,26.1),(1.23,26.12),(1.28,26.24),(1.26,26.32),(1.24,26.38),(1.27,26.47),(1.22,26.57),(1.27,26.7),(1.07,26.8),(1.22,26.8),(1.23,26.9),(1.2,27.18),(1.1,27.35),(0.26,27.38),(1.22,27.5),(1.42,27.5),(0.9,27.42),(1.25,27.62),(0.4,27.73),(1.41,27.95),(0.57,27.94),(0.55,28.0),(1.29,28.05),(0.47,28.12),(0.5,28.15),(1.26,28.15),(0.41,28.24),(0.52,28.28),(0.4,28.3),(0.6,28.2),(0.58,28.33),(0.55,28.36),(0.64,28.4),(0.72,28.4),(0.7,28.48),(1.05,28.55),(1.33,28.52),(1.23,28.6),(0.9,28.62),(1.3,28.65),(1.28,28.77),(1.18,28.78),(1.05,28.8),(0.95,28.75),(0.85,28.73),(0.75,28.9),(0.4,28.95),(0.85,28.97),(1.35,28.85),(1.42,28.95),(1.44,29.07),(1.5,29.14),(1.35,29.02),(1.26,29.1),(1.2,29.12),(1.08,29.1),(0.96,29.1),(0.8,29.02),(1.48,29.28),(1.52,29.3),(1.38,29.37),(1.55,29.32),(1.3,29.4),(1.43,29.45),(1.15,29.47),(1.12,29.55),(1.26,29.55),(1.3,29.6),(1.45,29.65),(1.55,29.71),(1.6,29.69),(1.7,29.69),(1.79,29.69),(2.2,29.63),(1.39,29.76),(1.75,29.92),(1.18,29.57),(1.0,29.22),(1.1,29.22),(1.25,29.25),(1.18,28.62)]
k2_mid = [(1.26,25.7),(1.24,25.9),(1.22,26.05),(1.22,26.2),(1.19,26.35),(1.2,26.5),(1.14,26.6),(1.18,26.68),(1.1,26.72),(1.16,26.82),(1.1,26.9),(1.14,27.0),(1.1,27.1),(1.16,27.2),(1.07,27.25),(1.13,27.35),(1.06,27.42),(1.14,27.48),(1.04,27.55),(1.12,27.6),(1.18,27.7),
(0.72,28.55),(0.82,28.6),(0.9,28.55),(0.98,28.62),(1.08,28.6),(1.16,28.58),(0.88,28.75),(1.0,28.82),(1.1,28.82),(1.22,28.72),(0.92,28.85),(1.02,28.95),(1.12,28.88),(1.2,28.98),(0.98,29.03),(1.12,29.02),(1.28,29.0),(1.05,29.15),(1.18,29.18),(1.32,29.15),(1.42,29.2),(1.2,29.32),(1.36,29.28),(1.4,29.3),(1.25,29.42),(1.33,29.45)]
k2_blob = [(1.0,27.78),(1.1,27.8),(0.93,27.92),(1.04,27.92),(1.14,27.92),(0.9,28.08),(1.0,28.08),(1.1,28.1),(0.76,28.18),(0.84,28.22),(0.94,28.22),(1.04,28.22),(0.66,28.28),(0.74,28.3),(0.84,28.34),(0.94,28.36),(1.04,28.36),(0.93,28.5),(1.02,28.5)]

# ---- panel 3, I-K ----
g3 = [(-0.44,20.72),(-0.305,20.75),(-0.6,20.87),(-0.57,20.87),(-0.405,21.04),(-0.37,21.04),(-0.49,21.27),(-0.47,21.41),(-0.445,21.43),(-0.61,21.47),(-0.32,21.46),(-0.545,21.71),(-0.62,21.9),(-0.445,22.05),(-0.45,22.08),(-0.615,22.1),(-0.57,22.12),(-0.635,22.24),(-0.61,22.36),(-0.64,22.42),(-0.63,22.46),(-0.44,22.42),(-0.48,22.44),(-0.46,22.47),(-0.605,22.58),(-0.505,22.56),(-0.475,22.56),(-0.605,22.62),(-0.495,22.63),(-0.44,22.62),(-0.62,22.66),(-0.55,22.67),(-0.48,22.66),(-0.59,22.7),(-0.6,22.78),(-0.595,22.83),(-0.64,22.84),(-0.48,22.86),(-0.635,22.96),(-0.59,22.96),(-0.615,23.02),(-0.655,23.12),(-0.585,23.12),(-0.59,23.17),(-0.65,23.19),(-0.61,23.2),(-0.615,23.35),(-0.6,23.39),(-0.65,23.45),(-0.595,23.45),(-0.675,23.49),(-0.6,23.52),(-0.675,23.58),(-0.64,23.57),(-0.59,23.63),(-0.56,23.67),(-0.63,23.69),(-0.66,23.75),(-0.59,23.73),(-0.655,23.81),(-0.58,23.81),(-0.56,23.85),(-0.635,23.87),(-0.58,23.89),(-0.68,24.01),(-0.595,23.98),(-0.56,24.05),(-0.65,24.12),(-0.56,24.12),(-0.665,24.19),(-0.6,24.18),(-0.58,24.23),(-0.695,24.29),(-0.65,24.29),(-0.58,24.3),(-0.6,24.33),
(-0.23,23.56),(-0.155,24.03),(0.025,24.04),(0.485,24.18),(0.56,24.18),(1.04,20.85),(1.16,23.49),(1.165,23.95),(1.165,24.07),
(-0.17,24.55),(-0.08,24.6),(-0.12,24.62),(-0.19,24.74),(-0.14,24.82),(-0.13,24.9),(-0.74,24.53),(-0.72,24.9),(-0.75,25.0),(-0.65,24.94),(-0.78,25.14),(-0.7,25.14),
(-0.8,25.25),(-0.78,25.45),(-0.8,25.6),(-0.75,25.7),(-0.73,25.47),(-0.75,25.9),(-0.85,25.82),(-0.86,25.93),(-0.62,25.5),(-0.46,25.56),(-0.45,25.93),(-0.41,25.97),(-0.48,26.1),(-0.45,26.18),(-0.9,26.0),(-0.88,26.07),(-0.86,26.13),(-0.82,26.15),(-0.79,26.08),(-0.75,26.09),(-0.78,26.2),(-0.82,26.28),(-0.88,26.3),(-0.93,26.27),(-0.97,26.27),(-0.87,26.38),(-0.82,26.43),(-0.92,26.47),(-0.81,26.5),(-0.75,26.4),(-0.7,26.38),(-0.7,26.55),(-0.85,26.67),(-0.76,26.56),(-0.72,26.74),(-0.68,26.73),(-0.88,26.83),(-0.82,26.8),(-0.68,26.85),(-0.62,26.83),(-0.57,26.88),(-0.52,26.83),(-0.43,26.3),(-0.36,26.3),(-0.3,26.38),(-0.35,26.4),(-0.28,26.4),(-0.32,26.5),(-0.36,26.52),(-0.37,26.6),(-0.3,26.55),(-0.31,26.62),(-0.22,26.57),(-0.28,26.7),(-0.25,26.72),(-0.2,26.65),(-0.19,26.8),(-0.24,26.82),(-0.3,26.85),(-0.36,26.9),(-0.42,26.92),(-0.45,26.9),(-0.5,26.93),(-0.42,27.0),(-0.37,27.05),(-0.3,27.02),(-0.2,26.92),(-0.17,26.97),(-0.15,26.98),(-0.05,26.92),(-0.06,27.02),(-0.14,27.1),(-0.2,27.12),(-0.25,27.15),(-0.28,27.05),(-0.3,27.1),(-0.38,27.02),(-0.46,27.03),(-0.5,27.03),(-0.56,27.03),(-0.42,27.13),(-0.4,27.18),(-0.33,27.2),(-0.27,27.18),(-0.2,27.2),(-0.12,27.18),(-0.07,27.15),(-0.06,27.27),(-0.11,27.24),(-0.01,27.28),(0.05,27.24),(0.09,27.27),(0.02,27.35),(0.13,27.36),(0.17,27.38),(0.25,27.18),(-0.44,27.27),(-0.4,27.3),(-0.28,27.27),(-0.22,27.26),(-0.18,27.33),(-0.19,27.37),(-0.18,27.42),(0.29,27.39),(0.09,27.47),(0.16,27.49),(0.2,27.52),(0.08,27.58),(0.25,27.55),(0.48,27.67),(0.57,27.68),(0.49,27.6),(0.59,27.74),(0.47,27.88),(0.5,27.93),(0.57,28.1),(0.12,26.14),(-0.03,26.4),(-0.02,26.33),(-0.12,26.6),(0.01,26.76),(-0.07,26.85),(-0.12,26.97),(0.2,26.32),(0.02,25.24),(-0.09,24.6),(0.06,26.75),(0.23,26.72),(0.59,26.34),(0.23,27.18)]
g3_col = [(-0.63,24.3),(-0.63,24.4),(-0.62,24.5),(-0.64,24.6),(-0.62,24.7),(-0.63,24.8),(-0.61,24.8),(-0.65,24.9),(-0.61,24.9),(-0.65,25.0),(-0.6,25.0),(-0.66,25.1),(-0.6,25.1),(-0.65,25.2),(-0.6,25.2),(-0.66,25.3),(-0.6,25.3)]
g3_mid = [(-0.75,25.0),(-0.7,25.0),(-0.6,25.0),(-0.52,25.0),(-0.67,25.2),(-0.55,25.2),(-0.52,25.22),(-0.72,25.4),(-0.68,25.38),(-0.52,25.4),(-0.5,25.42),(-0.72,25.6),(-0.68,25.58),(-0.54,25.58),(-0.5,25.62),(-0.46,25.6),(-0.72,25.8),(-0.68,25.76),(-0.5,25.8),(-0.46,25.78),(-0.43,25.82),(-0.76,26.0),(-0.72,25.98),(-0.68,26.02),(-0.62,25.98),(-0.47,26.0),(-0.42,26.0),(-0.39,26.03),(-0.65,26.12),(-0.6,26.14),(-0.55,26.1),(-0.5,26.14),(-0.45,26.1),(-0.41,26.12),(-0.74,26.25),(-0.68,26.22),(-0.64,26.28),(-0.6,26.25),(-0.55,26.28),(-0.5,26.28),(-0.44,26.25),(-0.4,26.27),(-0.35,26.25),(-0.72,26.38),(-0.67,26.42),(-0.63,26.4),(-0.58,26.42),(-0.53,26.4),(-0.48,26.42),(-0.43,26.4),(-0.38,26.42),(-0.33,26.38),(-0.29,26.4),(-0.66,26.55),(-0.62,26.58),(-0.56,26.55),(-0.5,26.58),(-0.44,26.55),(-0.4,26.58),(-0.34,26.55),(-0.28,26.58),(-0.6,26.7),(-0.56,26.72),(-0.5,26.7),(-0.44,26.72),(-0.4,26.7),(-0.34,26.73),(-0.28,26.72),(-0.24,26.75),(-0.42,26.86),(-0.38,26.83),(-0.32,26.85),(-0.26,26.9),(-0.18,26.87),(-0.14,26.84)]
g3_blob = [(-0.64,25.44),(-0.58,25.44),(-0.65,25.6),(-0.59,25.6),(-0.63,25.76),(-0.57,25.76),(-0.62,25.92),(-0.55,25.92),(-0.57,26.08),(-0.52,26.08),(-0.56,26.22),(-0.5,26.22),(-0.47,26.34)]
b3 = [(1.88,21.14),(1.76,21.27),(1.86,21.25),(1.875,21.3),(1.93,21.32),(1.9,21.36),(1.855,21.48),(1.41,22.55),(1.46,22.57),(1.28,23.83),(1.18,23.99),(1.28,24.16),(1.3,24.15),(1.345,24.18),
(1.1,24.59),(1.16,24.47),(0.03,24.76),(0.0,24.83),(0.45,24.79),(0.93,24.76),(0.2,24.9),(0.5,24.91),(0.53,24.93),(1.13,24.92),(1.12,24.95),(-0.07,25.0),(-0.12,25.04),(-0.08,25.04),(-0.06,25.0),(0.16,25.03),(0.23,25.04),(1.02,25.06),(1.1,25.08),(-0.1,25.14),(0.72,25.15),(1.03,25.25),(0.76,25.3),(0.9,25.33),(1.18,25.33),(0.12,25.36),(1.08,25.41),(0.65,25.43),(0.7,25.39),(0.24,25.45),(1.13,25.47),(-0.11,25.49),(-0.02,25.49),(0.98,25.52),(1.11,25.52),(-0.03,25.54),(0.27,25.55),(0.01,25.57),(0.1,25.62),(0.15,25.62),(-0.18,25.66),(-0.15,25.69),(-0.08,25.65),(-0.02,25.63),(0.17,25.69),(0.95,25.64),(0.66,25.62),(0.68,25.7),(0.73,25.71),(0.78,25.71),(0.05,25.72),(0.11,25.75),(0.17,25.74),(-0.06,25.75),(1.18,25.73),(0.045,25.79),(0.175,25.8),(0.47,25.8),(1.04,25.82),(1.08,25.82),(0.16,25.86),(0.38,25.87),(0.84,25.88),(0.9,25.91),(1.1,25.87),(0.105,25.89),(0.16,25.92),(0.43,25.94),(0.45,25.93),(0.88,25.93),(1.13,25.93),(0.03,25.94),(0.0,26.01),(0.03,26.02),(0.1,26.0),(0.13,26.0),(-0.28,26.0),(1.01,25.99),(1.09,25.99),(0.31,26.04),(0.48,26.05),(0.09,26.05),(0.13,26.09),(0.17,26.09),(0.32,26.09),(0.5,26.09),(0.56,26.14),(0.77,26.09),(1.06,26.12),(1.1,26.12),(0.17,26.2),(0.11,26.19),(0.02,26.2),(0.05,26.19),(0.5,26.2),(0.85,26.19),(0.92,26.19),(1.03,26.14),(0.18,26.23),(-0.07,26.23),(0.34,26.23),(0.8,26.23),(0.87,26.27),(0.93,26.28),(1.1,26.27),(0.0,26.3),(0.08,26.3),(0.15,26.3),(1.14,26.31),(1.18,26.32),(0.06,26.35),(0.11,26.35),(0.19,26.35),(0.32,26.35),(0.68,26.37),(0.84,26.38),(0.98,26.36),(1.05,26.35),(1.1,26.37),(0.39,26.38),(0.43,26.39),(0.79,26.39),(1.01,26.4),(1.07,26.41),(1.06,26.45),(0.03,26.43),(0.26,26.45),(0.29,26.47),(0.44,26.46),(0.73,26.47),(0.06,26.49),(0.19,26.51),(0.22,26.5),(0.3,26.5),(0.45,26.51),(1.06,26.48),(0.92,26.52),(0.0,26.56),(0.33,26.57),(0.44,26.56),(0.11,26.58),(0.21,26.59),(0.24,26.58),(0.93,26.57),(1.02,26.56),(-0.1,26.63),(0.06,26.61),(0.11,26.61),(0.2,26.62),(0.38,26.6),(0.59,26.59),(0.61,26.58),(0.79,26.61),(0.9,26.63),(0.98,26.62),(1.02,26.61),(1.05,26.62),(0.17,26.66),(0.28,26.65),(0.44,26.65),(0.7,26.66),(0.74,26.62),(0.7,26.68),(0.85,26.67),(1.12,26.72),(0.08,26.71),(0.13,26.73),(0.22,26.71),(0.26,26.72),(0.36,26.73),(0.42,26.76),(0.55,26.74),(0.85,26.76),(0.88,26.72),(0.93,26.75),(1.08,26.72),(0.02,26.82),(0.15,26.81),(0.29,26.82),(0.43,26.8),(0.9,26.77),(0.98,26.82),(1.05,26.78),(0.11,26.86),(0.2,26.85),(0.36,26.87),(0.47,26.87),(0.15,26.92),(0.2,26.9),(0.24,26.93),(0.3,26.9),(0.38,26.93),(0.78,26.91),(0.83,26.93),(0.51,27.02),(0.71,27.03),(0.84,27.01),(0.81,27.11),(0.88,27.09),(0.91,27.09),(0.93,27.13),(1.04,27.08),(1.1,27.08),(0.92,27.19),(1.0,27.28),(0.81,28.51),(0.97,27.67),(0.85,27.7),(0.92,27.7)]
r3 = [(1.92,22.54),(1.9,22.6),(1.85,22.79),(1.855,22.82),(1.9,22.81),(1.92,22.81),(1.8,22.99),(1.805,23.16),(1.78,23.31),(1.645,23.78),(1.6,24.09),(1.54,24.3),(1.47,24.5),(1.5,24.52),
(1.2,25.56),(1.07,26.56),(0.99,26.58),(0.34,27.15),(0.55,27.41),(0.7,27.55),(0.62,27.66),(0.66,27.68),(0.7,27.8),(0.59,27.95),(1.38,27.65),(1.45,27.78),(1.42,27.97),(1.5,28.1),(1.55,28.1),(1.6,28.24),(1.6,28.36),(1.65,28.38),(1.5,28.55),(1.45,28.55),(1.42,28.62),(1.33,28.62),(1.15,28.55),(1.1,28.55),(1.07,28.63),(1.07,28.72),(1.2,28.7),(1.28,28.68),(1.3,28.6),(1.38,28.7),(1.58,28.7),(1.4,28.79),(1.35,28.9),(1.47,28.82),(1.55,28.86),(1.7,28.85),(1.83,28.84),(1.87,28.9),(1.6,29.0),(1.5,28.99),(1.45,29.13),(1.37,29.12),(2.08,29.09),(2.15,29.47),(1.53,28.95),(0.82,28.55),(0.9,28.45),(1.12,28.4),(1.0,28.42),(1.4,28.45),(1.32,28.45),(1.44,28.3),(1.32,28.3),(1.5,28.28),(1.18,28.3),(0.72,28.05),(0.78,28.02),(0.65,27.9),(0.63,27.82),(0.58,27.75),(0.97,27.6),(0.95,27.5),(0.84,27.55),(1.4,27.55),(1.38,27.4),(0.95,27.35),(0.98,27.45),(0.88,27.18),(0.93,27.22),(1.42,27.25),(1.38,27.28)]
r3_col = [(1.53,24.65),(1.47,24.78),(1.44,24.9),(1.42,24.98),(1.38,25.05),(1.35,25.2),(1.34,25.35),(1.31,25.45),(1.3,25.55),(1.31,25.65),(1.28,25.8),(1.26,25.95),(1.25,26.1),(1.24,26.2),(1.25,26.28),(1.2,26.35),(1.22,26.45),(1.18,26.6),(1.24,26.6),(1.14,26.7),(1.2,26.7),(1.14,26.8),(1.2,26.8),(1.16,26.9),(1.22,26.95),(1.16,27.05),(1.24,27.12),(1.14,27.2),(1.2,27.2),(1.08,27.3),(1.16,27.3),(1.06,27.4),(1.14,27.4),(1.2,27.45),(1.12,27.55)]
r3_mid = [(0.62,27.8),(0.66,27.85),(0.62,27.92),(0.66,27.95),(0.7,27.9),(0.72,27.98),(0.76,28.05),(0.8,28.1),(0.84,28.15),(0.78,27.72),(0.82,27.78),(0.86,27.66),(0.92,27.62),(0.98,27.6),(1.04,27.55),(1.3,27.62),(1.34,27.72),(1.36,27.82),(1.34,27.92),(1.36,28.05),(1.32,28.12),(1.28,28.16),(0.92,28.12),(0.96,28.18),(1.22,28.18),(1.18,28.2),(1.1,28.2),(1.04,28.2),(0.95,28.35),(1.1,28.42),(1.25,28.45),(1.3,28.48),(1.2,28.5),(1.4,28.55),(1.28,28.4),
(1.3,25.6),(1.22,26.1),(1.28,26.0),(1.2,26.22),(1.14,26.4),(1.26,26.4),(1.12,26.55),(1.26,26.55),(1.1,26.7),(1.25,26.7),(1.1,26.85),(1.26,26.85),(1.12,27.0),(1.28,27.0),(1.1,27.1),(1.27,27.12),(1.04,27.2),(1.24,27.22),(1.02,27.32),(1.22,27.35),(1.02,27.42),(1.2,27.5),(1.08,27.52),(1.0,27.52)]
r3_blob = [(1.1,27.62),(1.2,27.62),(0.88,27.72),(0.98,27.72),(1.08,27.72),(1.18,27.72),(1.28,27.72),(0.76,27.84),(0.86,27.84),(0.96,27.84),(1.06,27.84),(1.16,27.84),(1.26,27.84),(0.88,27.98),(0.98,27.98),(1.08,27.98),(1.18,27.98),(1.28,27.98),(1.0,28.1),(1.1,28.1),(1.2,28.1)]
k3 = [(1.905,23.14),(1.845,23.18),(1.67,23.94),(1.55,24.62),(1.54,24.68),(1.57,24.72),(1.56,24.76),(1.54,24.9),(1.58,24.85),(1.53,24.92),(1.5,24.97),(1.55,25.08),(1.48,25.15),(1.5,25.16),(1.47,25.3),(1.48,25.35),(1.46,25.42),(1.48,25.47),(1.45,25.55),(1.43,25.6),(1.4,25.48),(1.38,25.74),(1.4,25.82),(1.38,25.88),(1.36,25.95),(1.37,26.05),(1.35,26.0),(1.33,26.1),(1.32,26.2),(1.36,26.29),(1.35,26.3),(1.34,26.35),(1.36,26.47),(1.3,26.53),(1.28,26.68),(1.33,26.8),(1.34,26.85),(1.3,26.98),(1.29,27.08),(0.99,27.1),(1.46,27.18),(1.28,27.25),(1.27,27.4),(1.34,27.43),(1.34,27.6),(1.3,27.68),(1.39,27.75),(1.4,27.85),(1.36,27.9),(1.44,27.98),(0.55,27.75),(0.54,27.85),(0.59,27.95),(0.62,28.05),(0.64,28.1),(0.58,28.25),(0.69,28.19),(0.72,28.26),(0.65,28.3),(0.8,28.35),(1.1,28.5),(1.2,28.6),(0.95,28.45),(1.0,28.47),(1.17,28.58),(1.32,28.55),(1.5,28.42),(1.38,28.58),(1.45,28.66),(1.52,28.7),(1.55,28.72),(1.62,28.72),(1.68,28.7),(1.46,28.73),(1.4,28.8),(1.55,28.78),(1.5,28.83),(1.44,28.8),(1.45,28.87),(1.32,28.84),(1.37,28.65),(1.62,28.82),(1.55,28.9),(1.48,28.95),(1.42,29.0),(1.42,29.05),(1.63,29.0),(1.68,28.97),(1.54,29.1),(1.6,29.07),(1.56,29.08),(1.72,29.1),(1.75,29.1),(1.85,29.0),(1.7,28.99),(2.16,29.5),(2.03,29.31)]
k3_mid = [(0.82,28.15),(0.78,28.28),(0.8,28.38),(0.85,28.45),(0.9,28.42),(0.95,28.48),(1.0,28.5),(1.05,28.5),(1.1,28.48),(1.15,28.5),(1.2,28.52),(1.22,28.42),(1.25,28.32),(1.3,28.25),(1.3,28.12),(1.32,28.0),(1.3,27.88),(1.3,27.75),(1.24,27.72),(1.14,27.72),(1.04,27.68),(0.98,27.75),(0.9,27.85),(0.85,27.98),(0.8,28.05),(1.12,26.6),(1.16,26.72),(1.18,26.85),(1.16,27.0),(1.2,27.1),(1.12,27.2),(1.16,27.32),(1.2,27.38),(1.14,27.45),(1.22,27.55),(1.08,27.6)]
k3_blob = [(1.05,27.9),(1.16,27.92),(0.96,28.02),(1.06,28.05),(1.18,28.06),(0.88,28.14),(0.98,28.16),(1.08,28.16),(1.2,28.16),(0.85,28.26),(0.95,28.26),(1.05,28.26),(1.15,28.26),(0.92,28.36),(1.02,28.36),(1.12,28.36)]

green_pts = [g1, g2, g3]
green_col = [g1_col, g2_col, g3_col]
green_mid = [g1_mid, g2_mid, g3_mid]
green_blob = [g1_blob, g2_blob, g3_blob]
blue_pts = [b1, b2, b3]
red_pts = [r1, r2, r3]
red_col = [r1_col, r2_col, r3_col]
red_mid = [r1_mid, r2_mid, r3_mid]
red_blob = [r1_blob, r2_blob, r3_blob]
black_pts = [k1, k2, k3]
black_mid = [k1_mid, k2_mid, k3_mid]
black_blob = [k1_blob, k2_blob, k3_blob]


def dots(ax, pts, color, s, marker='s'):
    xy = np.array(pts).T
    ax.scatter(xy[0], xy[1], s=s, c=color, marker=marker, linewidths=0, clip_on=True)


W, H = 2162.0, 1589.0
fig = plt.figure(figsize=(W/100, H/100), dpi=100, facecolor='white')
serif = 'DejaVu Serif'
lefts = [166, 649, 1132]
green_blob_size = [210, 170, 130]
axes = []
for i in range(3):
    ax = fig.add_axes([lefts[i]/W, 1-1465/H, 483/W, (1465-18)/H])
    axes.append(ax)
    ax.set_xlim(-1, 2.5)
    ax.set_ylim(32, 18)
    ax.set_xticks(xtick_major)
    ax.set_xticks(xtick_minor, minor=True)
    ax.set_yticks(ytick_major)
    ax.set_yticks(ytick_minor, minor=True)
    ax.tick_params(axis='x', which='major', direction='in', top=True, bottom=True, length=29, width=1.9, pad=20, labelsize=33)
    ax.tick_params(axis='x', which='minor', direction='in', top=True, bottom=True, length=14, width=1.9)
    ax.tick_params(axis='y', which='major', direction='in', left=True, right=True, length=24, width=2.3, pad=20, labelsize=33)
    ax.tick_params(axis='y', which='minor', direction='in', left=True, right=True, length=12, width=2.3)
    for lab in ax.get_xticklabels() + ax.get_yticklabels():
        lab.set_family(serif)
    for sp in ax.spines.values():
        sp.set_linewidth(3)
    ax.set_xlabel(xlabels[i], family=serif, fontsize=30, labelpad=4)
    if i == 0:
        ax.set_yticklabels(ytick_labels)
        ax.set_ylabel('I', family=serif, fontsize=33, labelpad=18)
    else:
        ax.set_yticklabels([])
    ax.patch.set_alpha(0)
    dots(ax, blue_pts[i], '#0000ff', 10)
    dots(ax, green_col[i], '#00ff00', 50)
    dots(ax, green_blob[i], '#00ff00', green_blob_size[i], 'o')
    dots(ax, green_mid[i], '#00ff00', 20)
    dots(ax, green_pts[i], '#00ff00', 11)
    dots(ax, red_col[i], '#ff0000', 34)
    dots(ax, red_blob[i], '#ff0000', 150, 'o')
    dots(ax, red_mid[i], '#ff0000', 16)
    dots(ax, red_pts[i], '#ff0000', 10)
    dots(ax, black_blob[i], '#000000', 120, 'o')
    dots(ax, black_mid[i], '#000000', 14)
    dots(ax, black_pts[i], '#000000', 10)

axes[0].text(0.3, 18.88, 'NGC1705', family=serif, fontsize=32, ha='center', va='center')
axes[1].text(0.69, 18.9, r'$\mu_0$=28.5  mag', family=serif, fontsize=33, ha='center', va='center',
             math_fontfamily='dejavuserif')

# lilac box pasted over the top of the panels
fig.add_artist(Rectangle((164/W, 1-157/H), 1457/W, 143/H, transform=fig.transFigure,
                         facecolor=(0.8, 0.3, 0.9), alpha=0.2, edgecolor='none', zorder=5))
fig.add_artist(Rectangle((164/W, 1-156/H), 1456/W, 141/H, transform=fig.transFigure,
                         facecolor='none', edgecolor='#cccccc', linewidth=2.6, zorder=5))

fig.text(1365/W, 1-120/H, 'FOV=9\u201dx9\u201d', family='Lato', fontsize=44, ha='center', va='baseline', zorder=6)

# tip of the red giant branch, across all panels
tip = ConnectionPatch(xyA=tip_rgb[0], xyB=tip_rgb[1], coordsA=axes[0].transData, coordsB=axes[2].transData,
                      color='#b21b00', linewidth=9.4, capstyle='butt', zorder=7)
fig.add_artist(tip)

legend_y = [105, 222, 335, 444]
legend_colors = ['#7abd42', '#0561ff', '#b21a00', '#000000']
for lab, yy, cc in zip(legend_labels, legend_y, legend_colors):
    fig.text(1717/W, 1-yy/H, lab, family='Lato', fontsize=50, color=cc, va='baseline', ha='left', zorder=6)
fig.text(1655/W, 1-682/H, 'Tip-RGB', family='Lato', fontsize=54, color='#b21a00', va='baseline', ha='left', zorder=6)
fig.text(74/W, 1-1582/H, 'nich', family='Liberation Serif', style='italic', fontsize=31, color='#6a97c8',
         va='baseline', ha='right')

fig.savefig('out.png', dpi=100)
